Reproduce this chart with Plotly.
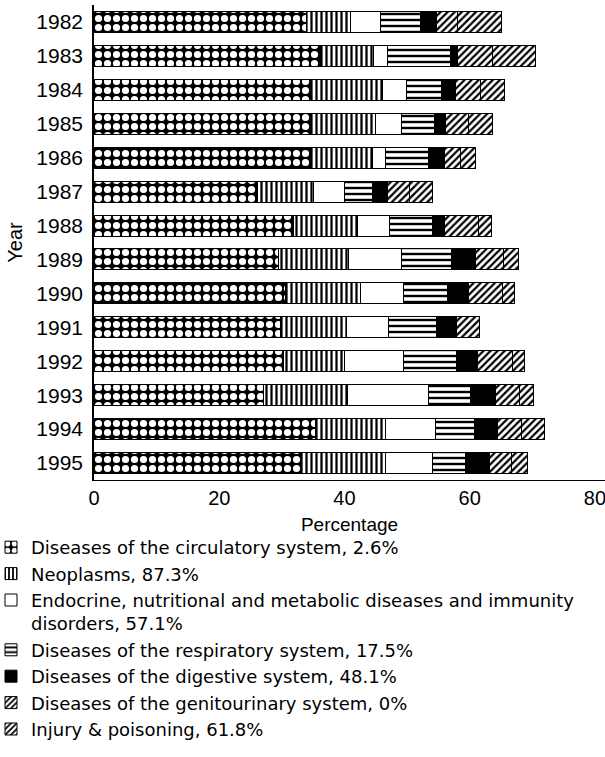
import plotly.graph_objects as go

years = ["1982", "1983", "1984", "1985", "1986", "1987", "1988",
         "1989", "1990", "1991", "1992", "1993", "1994", "1995"]

circulatory = [33.9, 36.1, 34.8, 34.7, 34.6, 26.1, 31.8, 29.5, 30.6, 29.8, 30.2, 27.0, 35.3, 33.1]
neoplasms = [7.0, 8.5, 11.2, 10.2, 9.8, 8.9, 10.2, 11.2, 11.9, 10.5, 9.8, 13.5, 11.3, 13.5]
endocrine = [4.8, 2.2, 3.9, 4.2, 2.2, 5.0, 5.2, 8.4, 6.9, 6.7, 9.5, 12.9, 8.0, 7.5]
respiratory = [6.4, 10.1, 5.6, 5.2, 6.8, 4.4, 6.9, 8.0, 7.0, 7.7, 8.4, 6.7, 6.1, 5.3]
digestive = [2.6, 1.2, 2.3, 1.8, 2.5, 2.4, 1.9, 3.8, 3.4, 3.2, 3.4, 4.0, 3.7, 3.8]
genitourinary = [3.4, 5.5, 3.9, 3.7, 2.7, 3.6, 5.4, 4.5, 5.4, 3.7, 5.6, 3.8, 3.9, 3.4]
injury = [6.9, 6.9, 3.9, 3.8, 2.3, 3.6, 2.0, 2.4, 2.0, 0.0, 1.9, 2.3, 3.6, 2.6]

series = [
    ("Diseases of the circulatory system, 2.6%", circulatory,
     dict(shape=".", bgcolor="black", fgcolor="white", size=9, solidity=0.5)),
    ("Neoplasms, 87.3%", neoplasms,
     dict(shape="|", bgcolor="white", fgcolor="black", size=5, solidity=0.45)),
    ("Endocrine, nutritional and metabolic diseases and immunity<br>disorders, 57.1%", endocrine,
     dict(shape="", bgcolor="white", fgcolor="white")),
    ("Diseases of the respiratory system, 17.5%", respiratory,
     dict(shape="-", bgcolor="white", fgcolor="black", size=6, solidity=0.4)),
    ("Diseases of the digestive system, 48.1%", digestive,
     dict(shape="", bgcolor="black", fgcolor="black")),
    ("Diseases of the genitourinary system, 0%", genitourinary,
     dict(shape="/", bgcolor="white", fgcolor="black", size=5, solidity=0.45)),
    ("Injury & poisoning, 61.8%", injury,
     dict(shape="/", bgcolor="white", fgcolor="black", size=5, solidity=0.45)),
]

fig = go.Figure()
for name, vals, pat in series:
    solid = pat["shape"] == ""
    marker = dict(color=pat["bgcolor"], line=dict(color="black", width=1))
    if not solid:
        marker["pattern"] = dict(shape=pat["shape"], bgcolor=pat["bgcolor"],
                                 fgcolor=pat["fgcolor"], size=pat["size"],
                                 solidity=pat["solidity"], fillmode="replace")
    fig.add_trace(go.Bar(y=years, x=vals, name=name, orientation="h", marker=marker))

axis_font = "Liberation Sans, Arial, sans-serif"

# plot area: x 94..605 px, y 5..480 px
PL, PW, PB, PH = 94, 511, 480, 475

fig.update_layout(
    width=605, height=757,
    margin=dict(l=PL, r=605 - PL - PW, t=5, b=757 - PB, autoexpand=False),
    barmode="stack",
    bargap=0.38,
    plot_bgcolor="white",
    paper_bgcolor="white",
    font=dict(family=axis_font, color="black"),
    xaxis=dict(
        range=[0, 81.6], tickvals=[0, 20, 40, 60, 80],
        showgrid=False, zeroline=False, showline=True, linecolor="black", linewidth=1,
        ticks="", ticklabeloverflow="allow",
        tickfont=dict(size=20, family=axis_font, color="black"),
        title=dict(text="Percentage", font=dict(size=19, family=axis_font, color="black"), standoff=9),
    ),
    yaxis=dict(
        type="category", autorange="reversed",
        showgrid=False, zeroline=False, showline=True, linecolor="black", linewidth=1.5,
        ticks="", ticklabelstandoff=5,
        tickfont=dict(size=21, family=axis_font, color="black"),
        title=dict(text="Year", font=dict(size=20, family=axis_font, color="black"), standoff=8),
    ),
    legend=dict(
        xref="paper", yref="paper",
        x=(-9 - PL) / PW, y=(PB - 529) / PH, xanchor="left", yanchor="top",
        traceorder="normal", valign="top",
        font=dict(size=18, family="DejaVu Sans", color="black"),
        bgcolor="rgba(0,0,0,0)", borderwidth=0,
    ),
    showlegend=True,
)

fig.write_html("out.html", config={"displayModeBar": False},
               post_script="document.body.style.margin='0px';")
